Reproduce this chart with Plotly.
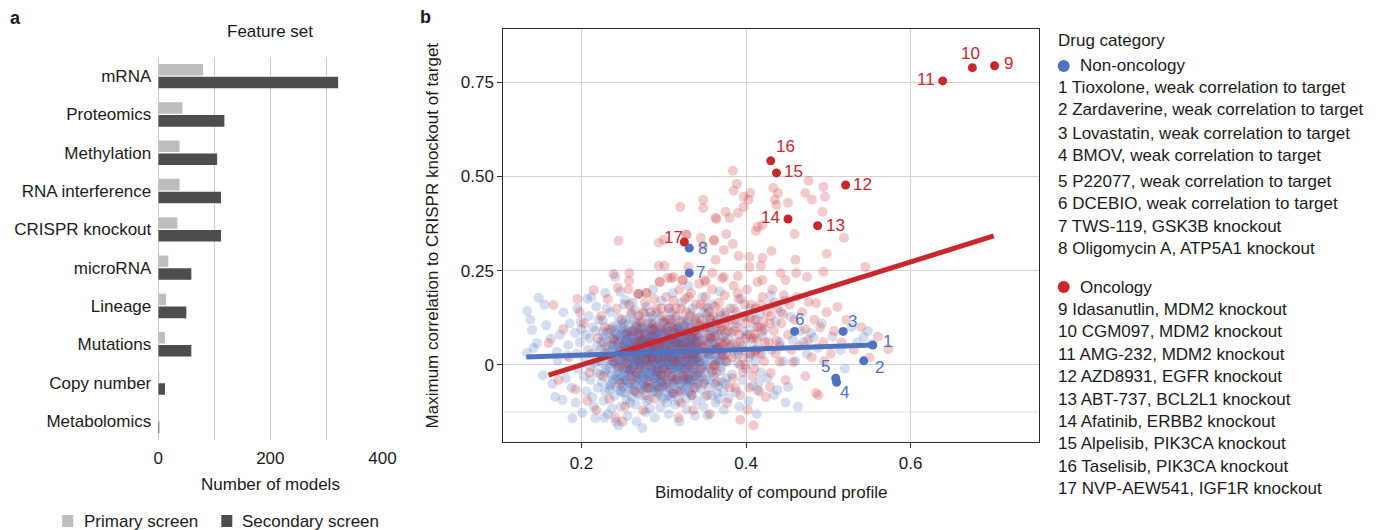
import plotly.graph_objects as go

W, H = 1382, 530
# horizontal compensation for the capture (rendered x ~ 4.8 + 0.9858 * layout x)
def px(x): return (x - 4.8) / 0.9858 / W
def py(y): return 1 - y / H

FONT = "Liberation Sans, Arial, Helvetica, sans-serif"
TXT = "#1a1a1a"
BLUE = "#4e72bd"
RED = "#c8282d"

# ---------------- panel a data ----------------
feature_sets = ["mRNA", "Proteomics", "Methylation", "RNA interference", "CRISPR knockout",
                "microRNA", "Lineage", "Mutations", "Copy number", "Metabolomics"]
primary_models = [80, 43, 38, 38, 34, 18, 14, 12, 1.5, 0]
secondary_models = [321, 118, 105, 112, 112, 59, 50, 59, 12, 1]
bar_x_ticks = [0, 200, 400]

# ---------------- panel b data ----------------
nononc_bg = [
    (0.134,0.143),(0.148,0.178),(0.140,0.093),(0.134,0.032),(0.153,-0.027),(0.142,0.045),(0.146,0.058),(0.168,-0.085),
    (0.177,-0.093),(0.189,-0.141),(0.174,0.080),(0.184,0.053),(0.138,0.120),(0.157,0.105),(0.163,0.070),(0.171,0.012),
    (0.181,-0.035),(0.186,0.110),(0.155,0.160),(0.178,0.140),(0.165,-0.050),(0.188,-0.060),(0.183,0.025),(0.192,0.085),(0.170,0.035),
    (0.201,-0.127),(0.195,0.150),(0.207,0.175),(0.198,0.060),(0.204,0.020),(0.211,-0.040),(0.196,-0.010),(0.214,0.100),
    (0.209,0.130),(0.217,-0.141),(0.213,-0.085),(0.200,0.095),(0.206,-0.070),(0.219,0.050),(0.216,0.005),(0.193,-0.100),
    (0.210,0.070),(0.218,0.155),(0.203,-0.030),(0.215,-0.110),(0.208,0.040),(0.199,0.115),(0.220,-0.060),(0.212,0.180),
    (0.205,0.080),(0.221,0.120),(0.194,0.030),(0.217,0.090),(0.211,-0.005),(0.219,-0.020),
    (0.222,0.010),(0.224,0.062),(0.225,-0.045),(0.226,0.118),(0.227,-0.095),(0.228,0.033),(0.229,0.191),(0.230,-0.012),
    (0.231,0.085),(0.232,-0.130),(0.233,0.047),(0.234,-0.064),(0.235,0.140),(0.236,0.002),(0.237,-0.028),(0.238,0.102),
    (0.239,0.068),(0.240,-0.082),(0.241,0.233),(0.241,0.020),(0.242,-0.150),(0.243,0.055),(0.244,-0.005),(0.245,0.125),
    (0.246,-0.040),(0.247,0.194),(0.247,0.078),(0.248,-0.110),(0.249,0.030),(0.250,-0.058),(0.250,0.095),(0.251,0.012),
    (0.252,0.160),(0.253,-0.020),(0.254,0.045),(0.255,-0.092),(0.256,0.070),(0.256,-0.135),(0.257,0.110),(0.258,0.000),
    (0.259,-0.048),(0.259,0.038),(0.260,0.135),(0.226,0.088),(0.229,-0.070),(0.233,0.015),(0.238,0.040),(0.243,-0.035),
    (0.246,0.010),(0.249,0.065),(0.252,-0.075),(0.255,0.022),(0.258,0.088),(0.223,-0.025),(0.231,0.150),(0.237,-0.115),
    (0.244,0.105),(0.251,-0.012),(0.257,0.058),(0.240,0.005),(0.235,0.072),(0.248,-0.030),(0.254,0.120),(0.228,-0.140),
    (0.253,0.172),(0.245,-0.160),(0.227,0.060),(0.236,-0.050),(0.242,0.083),(0.250,0.048),(0.256,-0.010),(0.259,-0.100),
    (0.261,0.025),(0.262,-0.060),(0.263,0.090),(0.264,-0.015),(0.265,0.145),(0.266,0.040),(0.266,-0.105),(0.267,0.008),
    (0.268,0.070),(0.269,-0.038),(0.270,0.188),(0.270,0.052),(0.271,-0.080),(0.272,0.115),(0.273,-0.002),(0.274,0.030),
    (0.274,-0.167),(0.275,0.098),(0.276,-0.050),(0.277,0.062),(0.278,-0.125),(0.278,0.018),(0.279,0.155),(0.280,-0.022),
    (0.281,0.080),(0.282,0.045),(0.282,-0.090),(0.283,0.125),(0.284,-0.008),(0.285,0.035),(0.286,-0.060),(0.287,0.105),
    (0.287,0.200),(0.288,0.012),(0.289,-0.140),(0.290,0.068),(0.290,-0.035),(0.291,0.140),(0.292,0.028),(0.293,-0.075),
    (0.294,0.090),(0.294,-0.010),(0.295,0.050),(0.296,-0.112),(0.297,0.170),(0.297,0.015),(0.298,-0.045),(0.299,0.078),
    (0.300,0.040),(0.300,-0.090),(0.263,0.055),(0.265,-0.030),(0.268,0.120),(0.270,-0.010),(0.272,0.078),(0.275,-0.065),
    (0.277,0.035),(0.279,-0.040),(0.281,0.010),(0.283,-0.115),(0.285,0.088),(0.288,0.060),(0.290,0.000),(0.292,-0.055),
    (0.295,0.125),(0.298,0.002),(0.262,0.165),(0.267,-0.150),(0.271,0.095),(0.276,0.138),(0.280,0.058),(0.284,0.072),
    (0.286,0.020),(0.289,0.110),(0.291,-0.020),(0.293,0.045),(0.296,0.060),(0.299,-0.025),(0.264,0.010),(0.269,0.030),
    (0.273,0.050),(0.278,-0.005),(0.282,-0.030),(0.287,-0.070),(0.294,0.022),
    (0.301,0.015),(0.302,0.110),(0.303,-0.060),(0.304,0.050),(0.305,-0.015),(0.306,0.150),(0.306,-0.130),(0.307,0.075),
    (0.308,0.000),(0.309,-0.085),(0.310,0.032),(0.311,0.190),(0.312,0.095),(0.312,-0.040),(0.313,0.060),(0.314,-0.105),
    (0.315,0.018),(0.316,0.128),(0.317,-0.025),(0.318,0.042),(0.319,-0.150),(0.320,0.085),(0.321,-0.068),(0.322,0.005),
    (0.322,0.165),(0.323,0.055),(0.324,-0.045),(0.325,0.105),(0.326,-0.008),(0.327,0.028),(0.328,-0.118),(0.329,0.072),
    (0.330,0.210),(0.330,-0.030),(0.331,0.048),(0.332,0.138),(0.333,-0.075),(0.334,0.012),(0.335,0.090),(0.336,-0.050),
    (0.337,0.062),(0.338,-0.010),(0.339,0.118),(0.340,0.035),(0.340,-0.095),(0.303,0.030),(0.305,0.088),(0.308,-0.035),
    (0.310,0.062),(0.313,0.008),(0.315,-0.062),(0.318,0.102),(0.320,0.020),(0.323,-0.012),(0.325,0.045),(0.327,-0.090),
    (0.329,0.115),(0.331,0.000),(0.333,0.070),(0.336,0.025),(0.338,-0.135),(0.304,-0.100),(0.309,0.140),(0.314,-0.005),
    (0.317,0.070),(0.321,0.040),(0.324,0.082),(0.328,-0.020),(0.332,-0.040),(0.335,0.150),(0.339,0.010),(0.307,0.025),
    (0.311,-0.010),(0.316,0.052),(0.326,0.060),
    (0.341,0.070),(0.342,-0.020),(0.343,0.125),(0.344,0.005),(0.345,-0.065),(0.346,0.045),(0.347,0.180),(0.348,-0.110),
    (0.349,0.088),(0.350,0.015),(0.351,-0.040),(0.352,0.135),(0.353,-0.133),(0.354,0.058),(0.355,-0.008),(0.356,0.100),
    (0.357,0.030),(0.358,-0.080),(0.359,0.160),(0.360,0.040),(0.361,-0.030),(0.362,0.078),(0.363,-0.100),(0.364,0.012),
    (0.365,0.120),(0.366,-0.055),(0.367,0.050),(0.368,0.195),(0.369,-0.015),(0.370,0.090),(0.371,0.025),(0.372,-0.070),
    (0.373,-0.119),(0.374,0.062),(0.375,0.140),(0.376,-0.035),(0.377,0.008),(0.378,0.105),(0.379,-0.088),(0.380,0.045),
    (0.344,0.100),(0.347,0.025),(0.350,-0.085),(0.354,0.150),(0.357,0.072),(0.360,-0.002),(0.363,0.060),(0.366,0.018),
    (0.369,0.130),(0.372,0.035),(0.375,-0.050),(0.378,0.070),(0.349,-0.045),(0.358,0.110),(0.367,-0.090),
    (0.382,0.085),(0.383,-0.025),(0.385,0.150),(0.386,0.030),(0.388,-0.072),(0.389,0.110),(0.390,0.005),(0.392,-0.110),
    (0.393,0.062),(0.394,0.175),(0.396,-0.040),(0.397,0.040),(0.399,0.125),(0.400,-0.010),(0.401,0.080),(0.403,-0.095),
    (0.404,0.020),(0.405,0.150),(0.407,0.060),(0.408,-0.055),(0.410,0.100),(0.411,0.010),(0.413,-0.130),(0.414,-0.066),
    (0.415,0.045),(0.417,0.135),(0.418,-0.020),(0.420,0.075),(0.384,0.055),(0.391,0.030),(0.398,0.090),(0.406,0.030),
    (0.412,0.120),(0.416,-0.045),(0.419,0.028),
    (0.423,0.095),(0.426,-0.035),(0.428,0.160),(0.431,0.040),(0.434,-0.080),(0.436,0.115),(0.438,-0.066),(0.441,0.060),
    (0.442,0.141),(0.445,0.010),(0.448,-0.100),(0.451,-0.058),(0.454,0.127),(0.457,0.066),(0.460,0.010),(0.463,-0.111),
    (0.466,0.090),(0.470,0.061),(0.474,0.030),(0.479,0.085),(0.482,0.072),(0.487,0.045),(0.492,0.110),(0.430,0.185),(0.447,0.170),
    (0.505,0.075),(0.515,0.040),(0.528,0.100),(0.535,0.060),(0.543,0.074),(0.548,0.090),(0.552,0.055),(0.520,-0.010),
    (0.223,0.040),(0.225,0.005),(0.227,0.075),(0.229,-0.020),(0.231,0.030),(0.233,0.095),(0.235,-0.055),(0.237,0.012),
    (0.239,0.050),(0.241,-0.030),(0.243,0.080),(0.245,0.028),(0.247,-0.068),(0.249,0.000),(0.251,0.110),(0.253,0.060),
    (0.255,-0.040),(0.257,0.020),(0.259,0.075),(0.261,-0.085),(0.262,0.040),(0.263,-0.005),(0.264,0.115),(0.265,0.068),
    (0.266,-0.045),(0.267,0.025),(0.268,-0.075),(0.269,0.085),(0.270,0.012),(0.271,0.045),(0.272,-0.028),(0.273,0.100),
    (0.274,-0.055),(0.275,0.020),(0.276,0.070),(0.277,-0.010),(0.278,0.040),(0.279,-0.095),(0.280,0.110),(0.281,0.052),
    (0.282,0.000),(0.283,0.028),(0.284,-0.060),(0.285,0.075),(0.286,0.045),(0.287,-0.025),(0.288,0.095),(0.289,0.010),
    (0.290,-0.070),(0.291,0.060),(0.292,0.080),(0.293,-0.012),(0.294,0.035),(0.295,-0.045),(0.296,0.100),(0.297,0.048),
    (0.298,-0.085),(0.299,0.020),(0.300,0.065),(0.301,-0.030),(0.302,0.042),(0.303,0.008),(0.304,0.120),(0.305,-0.055),
    (0.306,0.030),(0.307,-0.010),(0.308,0.088),(0.309,0.050),(0.310,-0.075),(0.311,0.018),(0.312,0.070),(0.313,-0.040),
    (0.314,0.105),(0.315,0.040),(0.316,-0.015),(0.317,0.012),(0.318,-0.095),(0.319,0.058),(0.320,-0.050),(0.321,0.090),
    (0.322,0.030),(0.323,-0.028),(0.324,0.010),(0.325,0.068),(0.326,-0.065),(0.327,0.115),(0.328,0.045),(0.329,-0.005),
    (0.330,0.082),(0.331,-0.045),(0.332,0.022),(0.333,0.105),(0.334,-0.080),(0.335,0.050),(0.336,-0.020),(0.337,0.090),
    (0.338,0.030),(0.339,-0.060),(0.340,0.065),(0.341,0.005),(0.343,-0.040),(0.345,0.085),(0.347,-0.005),(0.349,0.050),
    (0.351,0.110),(0.353,0.020),(0.355,-0.060),(0.357,0.090),(0.359,-0.020),(0.361,0.055),(0.363,0.025),(0.365,-0.075),
    (0.367,0.080),(0.369,0.040),(0.371,-0.045),(0.373,0.010),(0.348,0.140),(0.356,0.125),(0.364,0.100),(0.370,-0.005),
    (0.244,0.045),(0.252,0.088),(0.258,-0.062),(0.266,0.095),(0.274,0.062),(0.283,0.090),(0.291,0.015),(0.299,0.112),
    (0.307,0.060),(0.315,0.085),(0.323,0.118),(0.331,0.060),(0.339,0.040),(0.253,0.015),(0.262,0.015),(0.271,-0.060),
    (0.280,-0.045),(0.289,-0.035),(0.298,-0.060),(0.306,-0.080),(0.314,0.025),(0.322,-0.072),(0.330,0.015),(0.338,0.060),
    (0.346,-0.030),(0.354,0.030),(0.362,-0.050),(0.268,0.048),(0.276,0.002),(0.284,0.055),(0.292,-0.030),(0.300,0.005),
    (0.308,0.035),(0.316,0.095),(0.324,0.050),(0.332,0.000),(0.340,0.100),(0.260,0.060),(0.286,0.130),(0.310,0.120),
    (0.236,0.022),(0.238,-0.040),(0.240,0.062),(0.242,0.008),(0.244,-0.018),(0.246,0.070),(0.248,0.036),(0.250,-0.045),
    (0.252,0.050),(0.254,-0.006),(0.256,0.092),(0.258,0.030),(0.260,-0.030),(0.261,0.072),(0.263,0.018),(0.265,-0.052),
    (0.267,0.058),(0.269,0.002),(0.271,0.078),(0.273,-0.040),(0.275,0.044),(0.277,0.088),(0.279,0.012),(0.281,-0.062),
    (0.283,0.060),(0.285,-0.008),(0.287,0.034),(0.289,0.072),(0.291,-0.048),(0.293,0.092),(0.295,0.008),(0.297,-0.020),
    (0.299,0.055),(0.301,0.085),(0.303,-0.040),(0.305,0.015),(0.307,0.048),(0.309,-0.010),(0.311,0.080),(0.313,0.030),
    (0.315,-0.035),(0.317,0.062),(0.319,0.000),(0.321,-0.022),(0.323,0.075),(0.325,0.012),(0.327,-0.048),(0.329,0.040),
    (0.331,0.092),(0.333,-0.010),(0.335,0.020),(0.337,-0.040),(0.339,0.078),(0.341,0.040),(0.343,0.010),(0.345,-0.020),
    (0.239,0.090),(0.243,-0.058),(0.247,0.015),(0.251,0.040),(0.255,0.065),(0.259,0.010),(0.263,-0.068),(0.267,0.100),
    (0.271,0.022),(0.275,-0.020),(0.279,0.066),(0.283,-0.030),(0.287,0.080),(0.291,0.038),(0.295,-0.068),(0.299,0.030),
    (0.303,0.062),(0.307,-0.062),(0.311,0.045),(0.315,0.000),(0.319,0.095),(0.323,0.040),(0.327,0.000),(0.331,-0.070),
    (0.335,0.070),(0.339,0.015),(0.343,0.062),(0.237,0.052),(0.241,0.035),(0.245,-0.010),(0.249,-0.072),(0.253,0.030),
    (0.257,-0.025),(0.261,0.050),(0.265,0.002),(0.269,0.060),(0.273,0.025),(0.277,-0.058),(0.281,0.095),(0.285,0.015),
    (0.289,-0.010),(0.293,0.068),(0.297,0.035),(0.301,-0.005),(0.305,0.100),(0.309,0.020),(0.313,-0.075),(0.317,0.035),
    (0.321,0.060),(0.325,-0.035),(0.329,0.020),(0.333,0.048),(0.337,0.010),(0.341,-0.050),(0.234,-0.008),(0.248,0.100),
    (0.262,-0.012),(0.276,0.048),(0.290,0.085),(0.304,0.070),(0.318,-0.010),(0.332,0.075),(0.346,0.065),(0.352,0.000),
    (0.358,0.060),(0.364,0.045),(0.360,0.085),(0.350,-0.020),(0.356,-0.040),(0.368,0.010),(0.372,0.075),(0.376,0.030),
    (0.280,0.030),(0.296,0.015),(0.312,0.050),(0.326,0.090),(0.272,0.060),(0.288,-0.050),(0.306,0.000),(0.320,0.070),
    (0.336,0.040),(0.254,0.080),(0.266,0.028),(0.284,0.100),
    (0.250,0.018),(0.252,-0.028),(0.254,0.066),(0.256,0.040),(0.258,-0.012),(0.260,0.084),(0.262,0.002),(0.264,0.046),
    (0.266,-0.022),(0.268,0.030),(0.270,0.064),(0.272,-0.010),(0.274,0.010),(0.276,-0.035),(0.278,0.080),(0.280,0.022),
    (0.282,0.068),(0.284,-0.020),(0.286,0.006),(0.288,0.048),(0.290,-0.015),(0.292,0.062),(0.294,0.000),(0.296,-0.038),
    (0.298,0.070),(0.300,0.025),(0.302,-0.012),(0.304,0.040),(0.306,0.072),(0.308,0.012),(0.310,-0.030),(0.312,0.030),
    (0.314,0.058),(0.316,-0.048),(0.318,0.020),(0.320,0.050),(0.322,-0.005),(0.324,0.030),(0.326,0.078),(0.328,0.010),
    (0.330,-0.040),(0.332,0.045),(0.334,0.065),(0.336,-0.008),(0.338,0.018),(0.340,-0.025),(0.251,0.055),(0.255,-0.050),
    (0.259,0.045),(0.263,0.078),(0.267,-0.035),(0.271,0.005),(0.275,0.058),(0.279,-0.022),(0.283,0.042),(0.287,0.015),
    (0.291,0.075),(0.295,0.028),(0.299,-0.040),(0.303,0.090),(0.307,0.008),(0.311,-0.048),(0.315,0.065),(0.319,0.030),
    (0.323,-0.040),(0.327,0.055),(0.331,0.025),(0.335,-0.030),(0.339,0.050),(0.257,0.004),(0.261,-0.020),(0.265,0.035),
    (0.269,0.092),(0.273,-0.025),(0.277,0.020),(0.281,0.040),(0.285,0.060),(0.289,0.030),(0.293,-0.025),(0.297,0.004),
    (0.301,0.050),(0.305,0.035),(0.309,0.065),(0.313,0.015),(0.317,-0.005),(0.321,0.015),(0.325,0.090),(0.329,0.060),
    (0.333,-0.025),(0.337,0.070),(0.341,0.022),(0.246,0.035),(0.249,0.082),(0.253,-0.040),(0.268,0.012),(0.284,0.024),
    (0.296,0.085),(0.300,-0.055),(0.312,0.100),(0.328,-0.055),(0.344,0.040),(0.348,0.000),(0.352,0.070),(0.355,0.025),
    (0.359,0.045),(0.362,0.010),(0.278,0.055),(0.294,0.055),(0.310,0.000),(0.318,0.075),(0.334,0.030),
]

onc_bg = [
    (0.166,0.159),(0.160,0.058),(0.172,-0.040),(0.185,0.020),(0.178,0.095),(0.193,-0.065),(0.198,0.140),(0.203,0.110),
    (0.207,-0.095),(0.212,0.030),(0.215,0.199),(0.218,-0.120),(0.220,0.070),(0.195,0.175),(0.210,-0.020),
    (0.224,0.130),(0.227,-0.030),(0.230,0.050),(0.232,0.175),(0.234,-0.090),(0.236,0.095),(0.239,0.010),(0.241,-0.140),
    (0.243,0.150),(0.245,0.060),(0.247,-0.050),(0.249,0.120),(0.251,0.025),(0.253,-0.110),(0.255,0.085),(0.257,0.200),
    (0.259,-0.015),(0.261,0.140),(0.263,0.045),(0.265,-0.070),(0.267,0.105),(0.269,0.188),(0.271,0.000),(0.273,0.065),
    (0.275,-0.120),(0.277,0.165),(0.279,0.191),(0.281,0.030),(0.283,-0.045),(0.285,0.110),(0.287,0.075),(0.289,-0.090),
    (0.291,0.150),(0.293,0.015),(0.295,0.220),(0.297,-0.030),(0.299,0.090),(0.238,0.070),(0.246,-0.005),(0.254,0.040),
    (0.262,-0.040),(0.270,0.130),(0.278,-0.080),(0.286,0.020),(0.294,-0.060),(0.228,0.100),(0.244,0.205),(0.258,0.160),
    (0.274,0.112),(0.288,0.175),(0.298,0.130),(0.266,0.022),(0.282,0.060),(0.250,-0.150),
    (0.301,0.050),(0.303,0.180),(0.305,-0.020),(0.307,0.120),(0.309,0.230),(0.311,-0.075),(0.313,0.085),(0.315,0.150),
    (0.317,0.010),(0.319,0.200),(0.321,-0.100),(0.323,0.225),(0.325,0.060),(0.327,0.140),(0.329,-0.035),(0.331,0.100),
    (0.333,0.190),(0.335,0.030),(0.337,-0.060),(0.339,0.160),(0.341,0.080),(0.343,0.215),(0.345,-0.010),(0.347,0.120),
    (0.349,0.045),(0.351,0.180),(0.353,-0.080),(0.355,0.140),(0.357,0.070),(0.359,0.200),(0.361,0.000),(0.363,0.110),
    (0.365,-0.045),(0.367,0.165),(0.369,0.060),(0.371,0.230),(0.373,0.025),(0.375,0.130),(0.377,-0.100),(0.379,0.090),
    (0.304,0.095),(0.310,0.040),(0.316,-0.040),(0.322,0.115),(0.328,0.020),(0.334,0.075),(0.340,-0.030),(0.346,0.050),
    (0.352,0.100),(0.358,-0.015),(0.364,0.040),(0.370,0.100),(0.376,0.060),(0.312,0.170),(0.326,0.175),(0.338,0.125),
    (0.350,0.225),(0.362,0.155),(0.374,0.185),(0.318,-0.140),(0.336,-0.120),(0.356,-0.130),
    (0.381,0.150),(0.383,0.020),(0.385,0.210),(0.387,-0.060),(0.389,0.100),(0.391,0.175),(0.393,-0.080),(0.395,0.050),
    (0.397,0.130),(0.399,0.000),(0.401,0.200),(0.402,-0.119),(0.404,0.080),(0.406,0.160),(0.408,-0.030),(0.410,0.120),
    (0.412,0.040),(0.414,0.220),(0.416,-0.070),(0.418,0.100),(0.420,0.180),(0.422,0.010),(0.424,-0.085),(0.426,0.140),
    (0.428,0.060),(0.430,-0.021),(0.432,0.200),(0.434,0.090),(0.436,0.030),(0.438,0.150),(0.441,0.008),(0.443,0.110),
    (0.446,0.185),(0.448,-0.040),(0.451,0.080),(0.453,0.160),(0.455,0.040),(0.457,0.008),(0.459,0.120),(0.388,0.060),
    (0.396,-0.020),(0.405,0.030),(0.413,0.070),(0.421,0.115),(0.429,-0.058),(0.437,0.065),(0.445,0.135),(0.393,-0.145),(0.409,-0.160),
    (0.462,0.180),(0.465,0.050),(0.468,0.140),(0.472,0.095),(0.475,0.066),(0.476,0.167),(0.480,0.020),(0.483,0.120),
    (0.485,0.164),(0.485,-0.074),(0.488,-0.080),(0.490,0.100),(0.494,0.061),(0.498,0.140),(0.503,0.030),(0.507,0.090),
    (0.511,0.154),(0.516,0.060),(0.522,0.120),(0.531,0.040),(0.540,0.100),(0.550,0.020),(0.560,0.075),(0.573,0.042),
    (0.472,-0.030),(0.495,0.010),
    (0.384,0.515),(0.389,0.480),(0.385,0.462),(0.348,0.438),(0.348,0.416),(0.397,0.446),(0.405,0.456),(0.403,0.438),
    (0.397,0.419),(0.375,0.406),(0.380,0.390),(0.364,0.387),(0.390,0.403),(0.433,0.469),(0.439,0.456),(0.435,0.438),
    (0.451,0.430),(0.437,0.424),(0.476,0.488),(0.494,0.472),(0.472,0.456),(0.480,0.438),(0.496,0.446),(0.493,0.406),
    (0.414,0.366),(0.420,0.371),(0.412,0.355),(0.459,0.347),(0.519,0.337),(0.376,0.347),(0.361,0.332),(0.384,0.321),
    (0.373,0.305),(0.348,0.316),(0.391,0.289),(0.404,0.286),(0.420,0.284),(0.431,0.302),(0.460,0.279),(0.498,0.294),
    (0.363,0.279),(0.404,0.260),(0.418,0.263),(0.442,0.244),(0.461,0.244),(0.474,0.233),(0.494,0.247),(0.545,0.260),
    (0.359,0.244),(0.373,0.233),(0.390,0.236),(0.448,0.225),(0.420,0.225),(0.351,0.220),
    (0.320,0.419),(0.245,0.329),(0.294,0.324),(0.300,0.332),(0.327,0.345),(0.294,0.263),(0.301,0.263),(0.239,0.241),
    (0.258,0.244),(0.258,0.223),(0.295,0.220),(0.305,0.231),(0.312,0.233),(0.323,0.225),(0.330,0.260),(0.279,0.191),
    (0.269,0.188),(0.345,0.337),(0.361,0.329),(0.363,0.390),(0.328,0.345),
    (0.262,0.090),(0.268,-0.020),(0.272,0.035),(0.276,0.085),(0.280,-0.060),(0.284,0.140),(0.288,0.040),(0.292,-0.015),
    (0.296,0.060),(0.300,0.115),(0.304,-0.050),(0.308,0.070),(0.312,0.010),(0.316,0.100),(0.320,0.045),(0.324,-0.030),
    (0.328,0.085),(0.332,0.130),(0.336,0.000),(0.340,0.060),(0.344,0.105),(0.348,-0.050),(0.352,0.035),(0.356,0.080),
    (0.360,0.130),(0.364,-0.020),(0.368,0.095),(0.372,0.055),(0.376,0.010),(0.380,0.120),(0.384,-0.035),(0.388,0.140),
    (0.392,0.080),(0.396,0.020),(0.400,0.110),(0.404,-0.060),(0.408,0.070),(0.412,0.150),(0.416,0.030),(0.420,0.090),
    (0.300,-0.010),(0.314,0.130),(0.326,0.030),(0.338,0.090),(0.350,0.155),(0.362,0.075),(0.374,0.110),(0.386,0.090),
    (0.398,0.160),(0.410,-0.010),(0.286,0.095),(0.318,-0.070),(0.342,0.020),(0.366,0.045),(0.390,0.040),(0.414,0.100),
    (0.278,0.015),(0.306,0.150),(0.334,-0.080),(0.358,0.040),
    (0.255,0.005),(0.265,0.060),(0.275,0.140),(0.283,0.000),(0.291,0.100),(0.297,0.150),(0.303,0.020),(0.309,0.110),
    (0.315,0.060),(0.321,0.150),(0.327,-0.010),(0.333,0.050),(0.339,0.110),(0.345,0.160),(0.351,0.065),(0.357,0.120),
    (0.363,0.000),(0.369,0.140),(0.375,0.085),(0.381,0.050),(0.387,0.120),(0.393,0.000),(0.399,0.070),(0.405,0.125),
    (0.411,0.035),(0.417,0.160),(0.423,0.060),(0.429,0.110),(0.435,0.165),(0.441,0.050),(0.290,0.050),(0.310,-0.030),
    (0.330,0.180),(0.350,0.100),(0.370,0.030),(0.390,0.190),(0.410,0.080),(0.430,0.130),(0.270,0.080),(0.380,-0.060),
]

nononc_ids = [1, 2, 3, 4, 5, 6, 7, 8]
nononc_x = [0.554, 0.543, 0.518, 0.510, 0.509, 0.459, 0.331, 0.331]
nononc_y = [0.053, 0.011, 0.089, -0.046, -0.035, 0.089, 0.244, 0.310]
nononc_labels = ["Tioxolone, weak correlation to target", "Zardaverine, weak correlation to target",
                 "Lovastatin, weak correlation to target", "BMOV, weak correlation to target",
                 "P22077, weak correlation to target", "DCEBIO, weak correlation to target",
                 "TWS-119, GSK3B knockout", "Oligomycin A, ATP5A1 knockout"]

onc_ids = [9, 10, 11, 12, 13, 14, 15, 16, 17]
onc_x = [0.702, 0.675, 0.639, 0.521, 0.487, 0.451, 0.437, 0.430, 0.325]
onc_y = [0.793, 0.788, 0.753, 0.477, 0.369, 0.387, 0.509, 0.541, 0.326]
onc_labels = ["Idasanutlin, MDM2 knockout", "CGM097, MDM2 knockout", "AMG-232, MDM2 knockout",
              "AZD8931, EGFR knockout", "ABT-737, BCL2L1 knockout", "Afatinib, ERBB2 knockout",
              "Alpelisib, PIK3CA knockout", "Taselisib, PIK3CA knockout", "NVP-AEW541, IGF1R knockout"]

fit_nononc_x = [0.133, 0.554]
fit_nononc_y = [0.021, 0.053]
fit_onc_x = [0.160, 0.701]
fit_onc_y = [-0.027, 0.342]

scatter_x_ticks = [0.2, 0.4, 0.6]
scatter_y_ticks = [0, 0.25, 0.5, 0.75]
scatter_y_ticktext = ["0", "0.25", "0.50", "0.75"]

label_off = {1: (15, -3), 2: (16, 7), 3: (9, -10), 4: (8, 10), 5: (-10, -12), 6: (5, -12),
             7: (11, 0), 8: (13, 0), 9: (14, -2), 10: (-2, -14), 11: (-17, -1), 12: (17, -1),
             13: (18, 0), 14: (-18, -1), 15: (17, -1), 16: (15, -14), 17: (-11, -4)}

fig = go.Figure()

fig.add_trace(go.Bar(y=feature_sets, x=primary_models, orientation="h", name="Primary screen",
                     marker=dict(color="#bdbdbd", line=dict(width=0)), xaxis="x", yaxis="y", showlegend=False))
fig.add_trace(go.Bar(y=feature_sets, x=secondary_models, orientation="h", name="Secondary screen",
                     marker=dict(color="#4d4d4d", line=dict(width=0)), xaxis="x", yaxis="y", showlegend=False))

fig.add_trace(go.Scatter(x=[p[0] for p in nononc_bg], y=[p[1] for p in nononc_bg], mode="markers",
                         marker=dict(size=10, color=BLUE, opacity=0.24, line=dict(width=0)),
                         xaxis="x2", yaxis="y2", showlegend=False, hoverinfo="skip"))
fig.add_trace(go.Scatter(x=[p[0] for p in onc_bg], y=[p[1] for p in onc_bg], mode="markers",
                         marker=dict(size=10, color=RED, opacity=0.24, line=dict(width=0)),
                         xaxis="x2", yaxis="y2", showlegend=False, hoverinfo="skip"))
fig.add_trace(go.Scatter(x=fit_onc_x, y=fit_onc_y, mode="lines", line=dict(color=RED, width=5),
                         xaxis="x2", yaxis="y2", showlegend=False))
fig.add_trace(go.Scatter(x=fit_nononc_x, y=fit_nononc_y, mode="lines", line=dict(color=BLUE, width=5),
                         xaxis="x2", yaxis="y2", showlegend=False))
fig.add_trace(go.Scatter(x=nononc_x, y=nononc_y, mode="markers", marker=dict(size=9, color=BLUE),
                         xaxis="x2", yaxis="y2", showlegend=False))
fig.add_trace(go.Scatter(x=onc_x, y=onc_y, mode="markers", marker=dict(size=9, color=RED),
                         xaxis="x2", yaxis="y2", showlegend=False))

ann = []
for ids, xs, ys, col in [(nononc_ids, nononc_x, nononc_y, BLUE), (onc_ids, onc_x, onc_y, RED)]:
    for i, x, y in zip(ids, xs, ys):
        dx, dy = label_off[i]
        ann.append(dict(x=x, y=y, xref="x2", yref="y2", text=str(i), showarrow=False,
                        xshift=dx, yshift=-dy, xanchor="center", yanchor="middle",
                        font=dict(size=17, color=col, family=FONT)))

def txt(x, y, s, size=17, anchor="left", bold=False, angle=0, color=TXT):
    ann.append(dict(x=px(x), y=py(y), xref="paper", yref="paper", text=(f"<b>{s}</b>" if bold else s),
                    showarrow=False, xanchor=anchor, yanchor="middle", textangle=angle,
                    font=dict(size=size, color=color, family=FONT)))

txt(15, 18, "a", bold=True, anchor="center", size=18)
txt(425, 17, "b", bold=True, anchor="center", size=18)
txt(270, 32, "Feature set", anchor="center")
txt(270, 484, "Number of models", anchor="center")
txt(82, 521, "Primary screen")
txt(240, 521, "Secondary screen")
txt(770, 492, "Bimodality of compound profile", anchor="center")
txt(432, 235, "Maximum correlation to CRISPR knockout of target", anchor="center", angle=-90)

txt(1055, 41, "Drug category")
txt(1077, 66, "Non-oncology")
nononc_rows = [88, 110, 133, 155, 181, 203, 226, 248]
for i, lab, yy in zip(nononc_ids, nononc_labels, nononc_rows):
    txt(1055, yy, f"{i} {lab}")
txt(1077, 287, "Oncology")
onc_rows = [309, 331, 354, 376, 399, 421, 443, 466, 488]
for i, lab, yy in zip(onc_ids, onc_labels, onc_rows):
    txt(1055, yy, f"{i} {lab}")

shapes = [
    dict(type="rect", xref="paper", yref="paper", x0=px(62), x1=px(73), y0=py(527), y1=py(515),
         fillcolor="#bdbdbd", line=dict(width=0)),
    dict(type="rect", xref="paper", yref="paper", x0=px(221), x1=px(232), y0=py(527), y1=py(515),
         fillcolor="#4d4d4d", line=dict(width=0)),
    dict(type="circle", xref="paper", yref="paper", x0=px(1057), x1=px(1069), y0=py(72), y1=py(60),
         fillcolor=BLUE, line=dict(width=0)),
    dict(type="circle", xref="paper", yref="paper", x0=px(1057), x1=px(1069), y0=py(293), y1=py(281),
         fillcolor=RED, line=dict(width=0)),
    dict(type="line", xref="x2", yref="y2", x0=0.1052, x1=0.7556, y0=-0.125, y1=-0.125,
         line=dict(color="#e4e4e4", width=1.2), layer="below"),
]

fig.update_layout(
    width=W, height=H, margin=dict(l=0, r=0, t=0, b=0),
    paper_bgcolor="white", plot_bgcolor="white",
    barmode="group", bargap=0.33, bargroupgap=0.1,
    font=dict(family=FONT, size=17, color=TXT),
    annotations=ann, shapes=shapes, showlegend=False,
    xaxis=dict(domain=[px(158), px(382.6)], range=[0, 401], tickvals=bar_x_ticks,
               showgrid=True, gridcolor="#cccccc", gridwidth=1.2,
               minor=dict(dtick=100, tick0=0, showgrid=True, gridcolor="#cccccc", gridwidth=1.2, ticks=""),
               zeroline=True, zerolinecolor="#cccccc", zerolinewidth=1.2,
               showline=False, ticks="", ticklabelstandoff=6,
               tickfont=dict(size=17, color=TXT), anchor="y"),
    yaxis=dict(domain=[py(440), py(57)], categoryorder="array", categoryarray=feature_sets,
               autorange="reversed", showgrid=False, zeroline=False, showline=False, ticks="",
               ticklabelstandoff=6, tickfont=dict(size=17, color=TXT), anchor="x"),
    xaxis2=dict(domain=[px(503), px(1038)], range=[0.1052, 0.7556], tickvals=scatter_x_ticks,
                ticktext=["0.2", "0.4", "0.6"], showgrid=True, gridcolor="#d2d2d2", gridwidth=1.3,
                zeroline=False, showline=True, linecolor="#2b2b2b", linewidth=1.3, mirror=True,
                ticks="outside", ticklen=5, tickcolor="#2b2b2b", tickwidth=1.2,
                tickfont=dict(size=17, color=TXT), anchor="y2"),
    yaxis2=dict(domain=[py(442), py(29)], range=[-0.2041, 0.8905], tickvals=scatter_y_ticks,
                ticktext=scatter_y_ticktext, showgrid=True, gridcolor="#d2d2d2", gridwidth=1.3,
                zeroline=False, showline=True, linecolor="#2b2b2b", linewidth=1.3, mirror=True,
                ticks="outside", ticklen=5, tickcolor="#2b2b2b", tickwidth=1.2,
                tickfont=dict(size=17, color=TXT), anchor="x2"),
)

fig.write_html("out.html",
               post_script="document.documentElement.style.overflow='hidden';"
                           "document.body.style.overflow='hidden';document.body.style.margin='0';")
